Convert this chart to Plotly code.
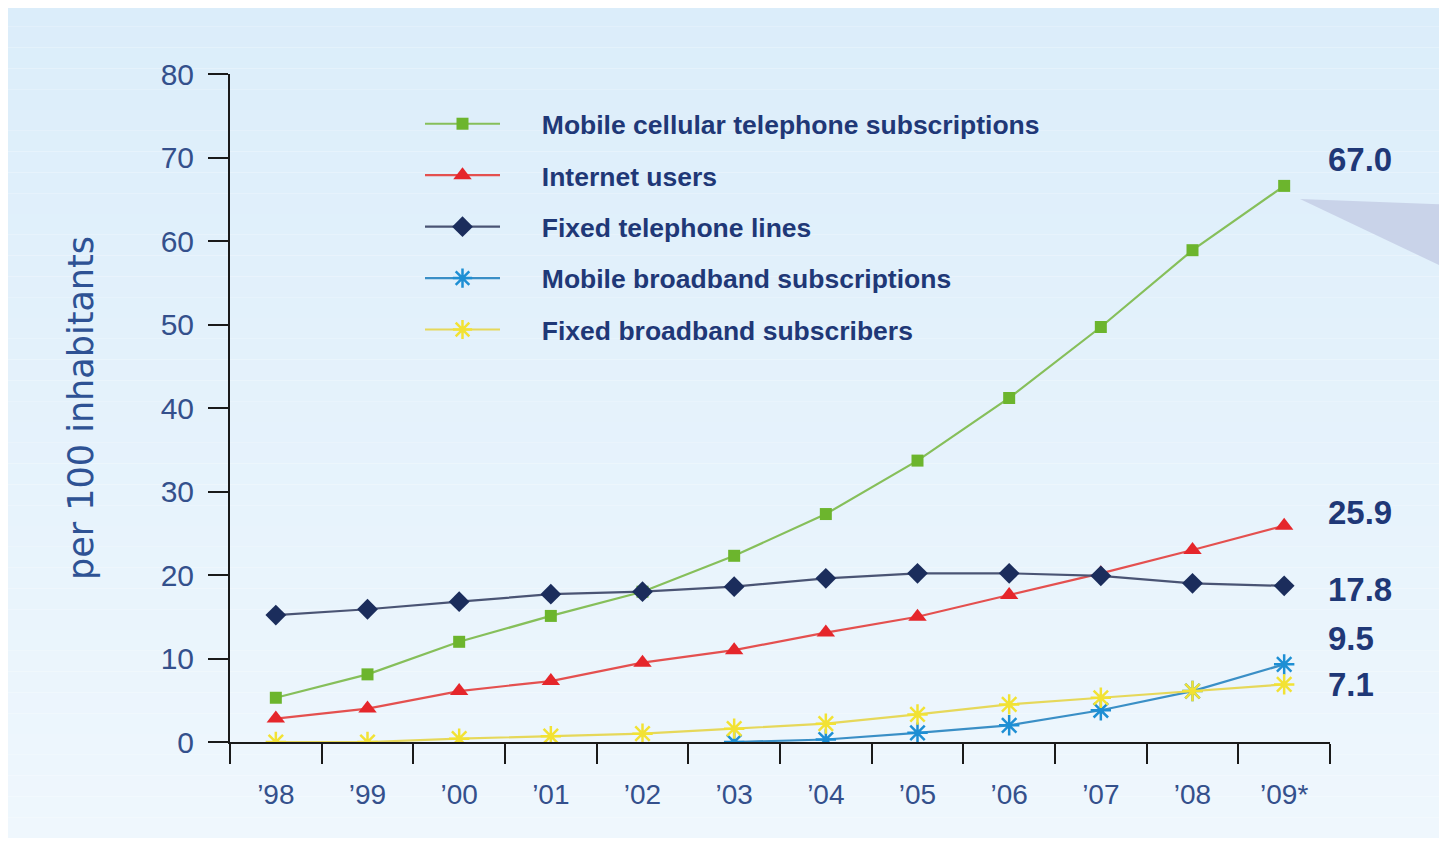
import plotly.graph_objects as go

years = ["’98", "’99", "’00", "’01", "’02", "’03", "’04", "’05", "’06", "’07", "’08", "’09*"]

mobile_cellular = [5.3, 8.1, 12.0, 15.1, 18.0, 22.3, 27.3, 33.7, 41.2, 49.7, 58.9, 66.6]
internet_users = [2.8, 4.0, 6.1, 7.3, 9.5, 11.0, 13.1, 15.0, 17.6, 20.2, 23.0, 25.9]
fixed_lines = [15.2, 15.9, 16.8, 17.7, 18.0, 18.6, 19.6, 20.2, 20.2, 19.9, 19.0, 18.7]
mobile_broadband_years = ["’03", "’04", "’05", "’06", "’07", "’08", "’09*"]
mobile_broadband = [0.0, 0.3, 1.1, 2.0, 3.8, 6.1, 9.3]
fixed_broadband = [0.0, 0.0, 0.4, 0.7, 1.0, 1.6, 2.2, 3.3, 4.5, 5.3, 6.1, 6.9]

end_labels = ["67.0", "25.9", "17.8", "9.5", "7.1"]

series_names = [
    "Mobile cellular telephone subscriptions",
    "Internet users",
    "Fixed telephone lines",
    "Mobile broadband subscriptions",
    "Fixed broadband subscribers",
]

NAVY = "#1f3877"
TXT = "#34508c"
GAP = "\u00a0" * 5

fig = go.Figure()

specs = [
    (years, mobile_cellular, series_names[0], "#6cb52d", "#86bf5a", "square", 12, 1),
    (years, internet_users, series_names[1], "#e5262b", "#e4504f", "triangle-up", 16, 1),
    (years, fixed_lines, series_names[2], "#1b2d5c", "#4a5474", "diamond", 16, 1),
    (mobile_broadband_years, mobile_broadband, series_names[3], "#1e8fd4", "#3a8fc6", "asterisk-open", 17, 2.5),
    (years, fixed_broadband, series_names[4], "#f2e234", "#e6d85a", "asterisk-open", 17, 2.5),
]

for i, (xs, ys, name, mcol, lcol, sym, size, mlw) in enumerate(specs):
    marker = dict(symbol=sym, size=size, color=mcol)
    if sym.endswith("open"):
        marker["line"] = dict(color=mcol, width=mlw)
    fig.add_trace(go.Scatter(
        x=xs, y=ys, name=GAP + name, mode="lines+markers",
        line=dict(color=lcol, width=2.2),
        marker=marker,
        legendgroup="g%d" % i,
    ))

# end-value labels attached to the last points
shifts = [(42, 26), (42, 13), (42, -4), (42, 26), (42, 0)]
for (xs, ys, *_), txt, (dx, dy) in zip(specs, end_labels, shifts):
    fig.add_annotation(
        x=xs[-1], y=ys[-1], text=txt, showarrow=False,
        xanchor="left", yanchor="middle", xshift=dx, yshift=dy,
        font=dict(family="Liberation Sans, Arial", size=33, color=NAVY, weight="bold"),
    )

# page is offset by the 8px body margin; work in page pixel coordinates
OFF = 8
W, H = 1447 - OFF, 843 - OFF
L, R, T, B = 230, 1330, 74, 742  # plot area in page pixels


def px(p):
    return (p - L) / (R - L)


def py(q):
    return (B - q) / (B - T)


shapes = []
n = 40
top_rgb = (219, 237, 250)
bot_rgb = (239, 247, 253)
y_top, y_bot = 6, 838
for k in range(n):
    t = k / (n - 1)
    c = tuple(round(a + (b - a) * t) for a, b in zip(top_rgb, bot_rgb))
    q0 = y_top + (y_bot - y_top) * k / n
    q1 = y_top + (y_bot - y_top) * (k + 1) / n
    shapes.append(dict(
        type="rect", xref="paper", yref="paper", layer="below",
        x0=px(8), x1=px(1460), y0=py(q1), y1=py(q0),
        fillcolor="rgb(%d,%d,%d)" % c, line=dict(width=0),
    ))
shapes.append(dict(
    type="path", xref="paper", yref="paper", layer="below",
    path="M %f %f L %f %f L %f %f Z" % (px(1300), py(199), px(1460), py(205), px(1460), py(275)),
    fillcolor="#c9d3e9", line=dict(width=0),
))

fig.update_layout(
    width=W, height=H,
    margin=dict(l=L - OFF, r=W - (R - OFF), t=T - OFF, b=H - (B - OFF), pad=0),
    paper_bgcolor="white",
    plot_bgcolor="rgba(0,0,0,0)",
    shapes=shapes,
    showlegend=True,
    legend=dict(
        x=px(420), y=py(100), xanchor="left", yanchor="top",
        bgcolor="rgba(0,0,0,0)", borderwidth=0,
        font=dict(family="Liberation Sans, Arial", size=26.5, color=NAVY, weight="bold"),
        itemwidth=75, tracegroupgap=14, traceorder="grouped",
    ),
    xaxis=dict(
        type="category", categoryorder="array", categoryarray=years,
        range=[-0.5, 11.5], tickson="boundaries",
        showline=True, linecolor="#1a1a1a", linewidth=2,
        ticks="outside", ticklen=20, tickwidth=2, tickcolor="#1a1a1a",
        showgrid=False, zeroline=False,
        tickfont=dict(family="Liberation Sans, Arial", size=28, color=TXT),
        ticklabelstandoff=26,
    ),
    yaxis=dict(
        range=[0, 80], tickvals=[0, 10, 20, 30, 40, 50, 60, 70, 80],
        showline=True, linecolor="#1a1a1a", linewidth=2,
        ticks="outside", ticklen=20, tickwidth=2, tickcolor="#1a1a1a",
        showgrid=False, zeroline=False,
        tickfont=dict(family="Liberation Sans, Arial", size=30, color=TXT),
        ticklabelstandoff=8,
        title=dict(text="per 100 inhabitants", standoff=56,
                   font=dict(family="DejaVu Sans", size=35, color="#2e5294")),
    ),
)

fig.write_html("out.html")
